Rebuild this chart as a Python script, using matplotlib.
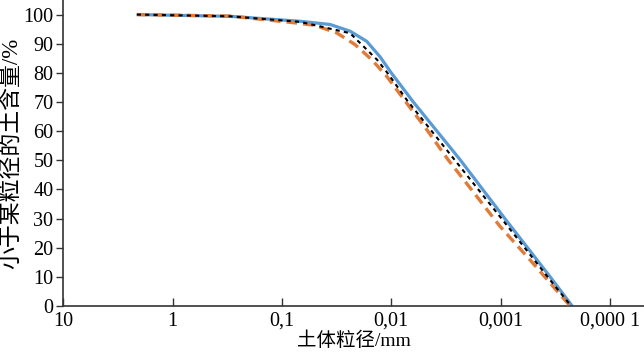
import matplotlib
matplotlib.use("Agg")
import matplotlib.pyplot as plt

# Data (particle size in mm, percentage finer)
blue_d = [2.12, 0.2975, 0.0682, 0.03626, 0.0238, 0.01675, 0.01266, 0.01005, 0.00632,
          0.00235, 0.000912, 0.000353, 0.000222]
blue_v = [100, 99.4, 97.7, 96.6, 94.3, 90.8, 85.5, 80.1, 70.1,
          50.2, 29.9, 10.0, 0]

orange_d = [2.12, 0.2975, 0.0731, 0.0497, 0.0315, 0.02143, 0.01508, 0.0110, 0.00764,
            0.004737, 0.003027, 0.001786, 0.001013, 0.000502, 0.000232]
orange_v = [100, 99.5, 97.1, 96.3, 93.7, 89.7, 84.5, 78.8, 70.8,
            60.5, 50.2, 39.2, 27.3, 14.5, 0]

black_d = [2.12, 0.2975, 0.0682, 0.0238, 0.01349, 0.0107, 0.007246, 0.002644,
           0.000861, 0.000353, 0.000227]
black_v = [100, 99.4, 97.5, 93.6, 84.5, 79.7, 70.8, 50.2,
           27.3, 8.9, 0]

xticks = [10, 1, 0.1, 0.01, 0.001, 0.0001]
xticklabels = ["10", "1", "0,1", "0,01", "0,001", "0,000 1"]
yticks = list(range(0, 101, 10))

fam = ["Liberation Serif", "Noto Sans CJK SC"]

fig = plt.figure(figsize=(6.44, 3.54), dpi=100)
ax = fig.add_axes([0.098, 0.1356, 0.902, 0.8644])

ax.plot(blue_d, blue_v, color="#5b9bd5", lw=2.3, solid_capstyle="butt",
        solid_joinstyle="round", zorder=2)
ax.plot(orange_d, orange_v, color="#e07b39", lw=2.4, linestyle=(0, (3.2, 1.8)), zorder=3)
ax.plot(black_d, black_v, color="black", lw=1.5, linestyle=(0, (2, 2)), zorder=4)

ax.set_xscale("log")
ax.set_xlim(10, 10 ** -4.31)
ax.set_ylim(0, 105)
ax.set_xticks(xticks)
ax.set_xticklabels(xticklabels)
ax.xaxis.set_minor_locator(matplotlib.ticker.NullLocator())
ax.set_yticks(yticks)

ax.spines["top"].set_visible(False)
ax.spines["right"].set_visible(False)
for s in ("left", "bottom"):
    ax.spines[s].set_color("#333333")
    ax.spines[s].set_linewidth(1.2)

ax.tick_params(axis="x", direction="in", length=6, width=1, pad=4, colors="#333333", labelcolor="black")
ax.tick_params(axis="y", direction="out", length=5, width=1, pad=2, colors="#333333", labelcolor="black")
for lab in ax.get_xticklabels() + ax.get_yticklabels():
    lab.set_family(fam)
    lab.set_fontsize(14.5)

ax.set_xlabel("土体粒径/mm", family=fam, fontsize=14, labelpad=1)
ax.set_ylabel("小于某粒径的土含量/%", family=fam, fontsize=16.5, labelpad=1)

fig.savefig("out.png", dpi=100)
